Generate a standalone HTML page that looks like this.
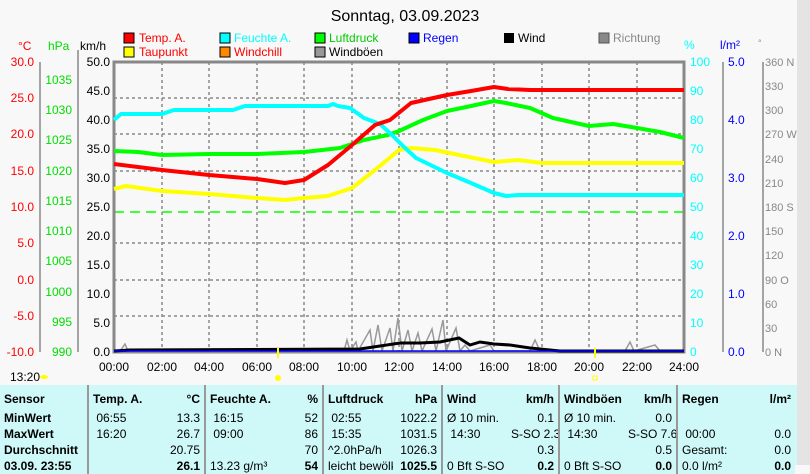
<!DOCTYPE html><html><head><meta charset="utf-8"><style>
body{margin:0;background:#f8f8f8;width:810px;height:465px;overflow:hidden;font-family:"Liberation Sans",sans-serif;position:relative}
table{position:absolute;left:0;top:385px;width:795px;border-collapse:collapse;background:#cff8f8;font-size:12px;table-layout:fixed}
td{padding:0 4px;height:16px;line-height:16px;white-space:nowrap;overflow:hidden}
tr:first-child td{height:22px;padding-top:3px}
.b{font-weight:bold}.r{text-align:right}.s{border-left:2px solid #999}
.bg{position:absolute;left:0;top:385px;width:797px;height:80px;background:#cff8f8}
</style></head><body>
<svg width="810" height="465" style="position:absolute;left:0;top:0" font-family="Liberation Sans" font-size="12">
<text x="405" y="21" font-size="16" text-anchor="middle">Sonntag, 03.09.2023</text>
<g font-size="12">
<rect x="124" y="33" width="10" height="10" fill="red" stroke="#000"/><text x="139" y="42" fill="red">Temp. A.</text>
<rect x="124" y="47" width="10" height="10" fill="yellow" stroke="#000"/><text x="139" y="56" fill="red">Taupunkt</text>
<rect x="220" y="33" width="10" height="10" fill="cyan" stroke="#000"/><text x="234" y="42" fill="cyan">Feuchte A.</text>
<rect x="220" y="47" width="10" height="10" fill="#f80" stroke="#000"/><text x="234" y="56" fill="red">Windchill</text>
<rect x="315" y="33" width="10" height="10" fill="#0f0" stroke="#000"/><text x="329" y="42" fill="#0c0">Luftdruck</text>
<rect x="315" y="47" width="10" height="10" fill="#999" stroke="#000"/><text x="329" y="56">Windböen</text>
<rect x="409" y="33" width="10" height="10" fill="#00f" stroke="#000"/><text x="423" y="42" fill="#00f">Regen</text>
<rect x="504" y="33" width="10" height="10" fill="#000"/><text x="518" y="42">Wind</text>
<rect x="599" y="33" width="10" height="10" fill="#888" stroke="#555"/><text x="613" y="42" fill="#888">Richtung</text>
<text x="18" y="50" fill="red">°C</text><text x="48" y="50" fill="#0d0">hPa</text><text x="80" y="50">km/h</text>
<text x="684" y="49" fill="cyan">%</text><text x="720" y="49" fill="#00f">l/m²</text><text x="758" y="46" fill="#888" font-size="9">°</text>
</g>
<g stroke="#888" stroke-width="1.5" stroke-dasharray="3,3">
<line x1="162" y1="62" x2="162" y2="352"/><line x1="209" y1="62" x2="209" y2="352"/><line x1="257" y1="62" x2="257" y2="352"/><line x1="304" y1="62" x2="304" y2="352"/><line x1="352" y1="62" x2="352" y2="352"/><line x1="399" y1="62" x2="399" y2="352"/><line x1="447" y1="62" x2="447" y2="352"/><line x1="494" y1="62" x2="494" y2="352"/><line x1="542" y1="62" x2="542" y2="352"/><line x1="589" y1="62" x2="589" y2="352"/><line x1="637" y1="62" x2="637" y2="352"/>
<line x1="114" y1="98" x2="684" y2="98"/><line x1="114" y1="134" x2="684" y2="134"/><line x1="114" y1="171" x2="684" y2="171"/><line x1="114" y1="243" x2="684" y2="243"/><line x1="114" y1="280" x2="684" y2="280"/><line x1="114" y1="316" x2="684" y2="316"/>
</g>
<line x1="114" y1="212" x2="684" y2="212" stroke="#0f0" stroke-width="1.5" stroke-dasharray="10,6"/>
<rect x="114" y="62" width="570" height="290" fill="none" stroke="#888" stroke-width="3"/>
<g stroke="#888" stroke-width="1.5" fill="#888">
<line x1="40" y1="62" x2="40" y2="352"/><line x1="78" y1="50" x2="78" y2="352"/><line x1="723" y1="62" x2="723" y2="352"/><line x1="763" y1="62" x2="763" y2="352"/>
</g>
<g fill="red" text-anchor="end">
<text x="34" y="66">30.0</text><text x="34" y="102">25.0</text><text x="34" y="138">20.0</text><text x="34" y="175">15.0</text><text x="34" y="211">10.0</text><text x="34" y="247">5.0</text><text x="34" y="284">0.0</text><text x="34" y="320">-5.0</text><text x="34" y="356">-10.0</text></g>
<g fill="#0d0" text-anchor="end">
<text x="72" y="84">1035</text><text x="72" y="114">1030</text><text x="72" y="144">1025</text><text x="72" y="175">1020</text><text x="72" y="205">1015</text><text x="72" y="235">1010</text><text x="72" y="265">1005</text><text x="72" y="296">1000</text><text x="72" y="326">995</text><text x="72" y="356">990</text></g>
<g text-anchor="end">
<text x="110" y="66">50.0</text><text x="110" y="95">45.0</text><text x="110" y="124">40.0</text><text x="110" y="153">35.0</text><text x="110" y="182">30.0</text><text x="110" y="211">25.0</text><text x="110" y="240">20.0</text><text x="110" y="269">15.0</text><text x="110" y="298">10.0</text><text x="110" y="327">5.0</text><text x="110" y="356">0.0</text></g>
<g fill="cyan">
<text x="690" y="66">100</text><text x="690" y="95">90</text><text x="690" y="124">80</text><text x="690" y="153">70</text><text x="690" y="182">60</text><text x="690" y="211">50</text><text x="690" y="240">40</text><text x="690" y="269">30</text><text x="690" y="298">20</text><text x="690" y="327">10</text><text x="690" y="356">0</text></g>
<g fill="#00f">
<text x="728" y="66">5.0</text><text x="728" y="124">4.0</text><text x="728" y="182">3.0</text><text x="728" y="240">2.0</text><text x="728" y="298">1.0</text><text x="728" y="356">0.0</text></g>
<g fill="#888" font-size="11">
<text x="765" y="66">360 N</text><text x="765" y="90">330</text><text x="765" y="114">300</text><text x="765" y="138">270 W</text><text x="765" y="163">240</text><text x="765" y="187">210</text><text x="765" y="211">180 S</text><text x="765" y="235">150</text><text x="765" y="259">120</text><text x="765" y="284">90  O</text><text x="765" y="308">60</text><text x="765" y="332">30</text><text x="765" y="356">0   N</text></g>
<g fill="none" stroke-width="4" stroke-linejoin="round">
<polyline stroke="#0f0" points="114,151 138,152 162,155 209,154 257,154 304,152 340,148 364,140 388,135 399,131 423,120 447,111 471,106 494,101 506,103 530,108 553,118 589,126 613,124 637,128 660,132 684,138"/>
<polyline stroke="yellow" points="114,189 126,186 162,191 209,194 257,198 285,200 304,198 328,196 352,188 375,170 399,150 411,148 435,150 459,155 494,162 518,160 542,163 684,163"/>
<polyline stroke="cyan" points="114,120 121,114 162,114 174,110 233,110 245,106 328,106 333,104 338,106 350,108 364,118 380,124 392,135 404,147 416,158 447,173 471,183 494,193 506,196 518,195 684,195"/>
<polyline stroke="red" points="114,164 162,170 209,175 257,179 285,183 304,180 328,165 352,145 375,125 390,120 411,103 447,95 471,91 494,87 508,89 530,90 684,90"/>
</g>
<polyline fill="none" stroke="#999" stroke-width="1.5" points="114,351 120,351 125,344 128,351 344,351 347,340 350,351 356,342 358,351 370,330 373,351 378,325 382,351 390,328 393,351 398,318 402,351 408,330 412,351 418,333 422,351 432,329 436,351 443,320 446,351 456,328 460,351 465,345 470,351 490,345 494,351 530,351 535,340 540,351 625,351 630,342 634,351 655,345 660,351"/>
<polyline fill="none" stroke="#000" stroke-width="3" points="114,351 130,350 360,349 380,346 400,343 420,343 440,342 459,338 470,345 480,342 494,344 510,345 530,348 560,351 684,351"/>
<line x1="114" y1="351" x2="684" y2="351" stroke="#00f" stroke-width="1.5"/>
<line x1="278" y1="348" x2="278" y2="358" stroke="yellow" stroke-width="2"/><line x1="595" y1="348" x2="595" y2="358" stroke="yellow" stroke-width="2"/>
<circle cx="278" cy="378" r="3" fill="yellow"/><rect x="593" y="376" width="4" height="4" fill="none" stroke="yellow"/>
<ellipse cx="44" cy="377" rx="4" ry="2" fill="yellow"/>
<g text-anchor="middle">
<text x="114" y="371">00:00</text><text x="162" y="371">02:00</text><text x="209" y="371">04:00</text><text x="257" y="371">06:00</text><text x="304" y="371">08:00</text><text x="352" y="371">10:00</text><text x="399" y="371">12:00</text><text x="447" y="371">14:00</text><text x="494" y="371">16:00</text><text x="542" y="371">18:00</text><text x="589" y="371">20:00</text><text x="637" y="371">22:00</text><text x="684" y="371">24:00</text></g>
<text x="10" y="381">13:20</text>
<rect x="797" y="0" width="13" height="465" fill="#e4e4e4"/>
</svg>
<div class="bg"></div>
<table>
<colgroup><col style="width:88px"><col style="width:70px"><col style="width:47px"><col style="width:70px"><col style="width:48px"><col style="width:70px"><col style="width:49px"><col style="width:65px"><col style="width:52px"><col style="width:65px"><col style="width:53px"><col style="width:70px"><col style="width:48px"></colgroup>
<tr class="b"><td>Sensor</td><td class="s">Temp. A.</td><td class="r">°C</td><td class="s">Feuchte A.</td><td class="r">%</td><td class="s">Luftdruck</td><td class="r">hPa</td><td class="s">Wind</td><td class="r">km/h</td><td class="s">Windböen</td><td class="r">km/h</td><td class="s">Regen</td><td class="r">l/m²</td></tr>
<tr><td class="b">MinWert</td><td class="s">&nbsp;06:55</td><td class="r">13.3</td><td class="s">&nbsp;16:15</td><td class="r">52</td><td class="s">&nbsp;02:55</td><td class="r">1022.2</td><td class="s">Ø 10 min.</td><td class="r">0.1</td><td class="s">Ø 10 min.</td><td class="r">0.0</td><td class="s"></td><td></td></tr>
<tr><td class="b">MaxWert</td><td class="s">&nbsp;16:20</td><td class="r">26.7</td><td class="s">&nbsp;09:00</td><td class="r">86</td><td class="s">&nbsp;15:35</td><td class="r">1031.5</td><td class="s">&nbsp;14:30</td><td class="r">S-SO 2.3</td><td class="s">&nbsp;14:30</td><td class="r">S-SO 7.6</td><td class="s">&nbsp;00:00</td><td class="r">0.0</td></tr>
<tr><td class="b">Durchschnitt</td><td class="s"></td><td class="r">20.75</td><td class="s"></td><td class="r">70</td><td class="s">^2.0hPa/h</td><td class="r">1026.3</td><td class="s"></td><td class="r">0.3</td><td class="s"></td><td class="r">0.5</td><td class="s">Gesamt:</td><td class="r">0.0</td></tr>
<tr><td class="b">03.09. 23:55</td><td class="s"></td><td class="r b">26.1</td><td class="s">13.23 g/m³</td><td class="r b">54</td><td class="s">leicht bewölk</td><td class="r b">1025.5</td><td class="s">0 Bft S-SO</td><td class="r b">0.2</td><td class="s">0 Bft S-SO</td><td class="r b">0.0</td><td class="s">0.0 l/m²</td><td class="r b">0.0</td></tr>
</table>
</body></html>
